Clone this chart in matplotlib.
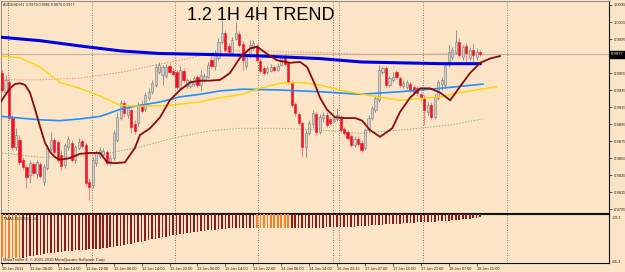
import matplotlib
matplotlib.use("Agg")
import matplotlib.pyplot as plt
import numpy as np

# AUDUSD H1 candles (bar 0 = first visible bar)
opens = [.9955, .9933, .9944, .9902, .9868, .9876, .9853, .9845, .9835, .9848,
         .9836, .9848, .9827, .9843, .9866, .9876, .9874, .9859, .9847, .9868,
         .9873, .9853, .9867, .9875, .9870, .9827, .9823, .9849, .9857, .9859,
         .9862, .9849, .9855, .9876, .9902, .9920, .9906, .9912, .9895, .9896,
         .9919, .9913, .9926, .9933, .9941, .9956, .9953, .9952, .9963, .9957,
         .9956, .9937, .9957, .9940, .9940, .9942, .9950, .9941, .9947, .9950,
         .9970, .9963, .9973, .9992, 1.0002, .9987, .9979, .9995, 1.0001, .9989,
         .9963, .9975, .9984, .9987, .9969, .9961, .9956, .9957, .9962, .9959,
         .9964, .9973, .9967, .9943, .9919, .9907, .9896, .9868, .9884, .9895,
         .9907, .9886, .9902, .9906, .9901, .9899, .9901, .9903, .9889, .9886,
         .9881, .9870, .9877, .9873, .9867, .9888, .9902, .9912, .9923, .9956,
         .9961, .9941, .9947, .9956, .9949, .9940, .9939, .9942, .9939, .9937,
         .9930, .9926, .9909, .9917, .9903, .9926, .9942, .9941, .9964, .9974,
         .9980, .9992, .9974, .9987, .9973, .9982, .9974, .9980]
highs = [.9959, .9953, .9949, .9906, .9890, .9882, .9856, .9847, .9853, .9850,
         .9853, .9850, .9848, .9870, .9886, .9879, .9876, .9865, .9873, .9881,
         .9876, .9870, .9879, .9877, .9873, .9832, .9856, .9865, .9868, .9867,
         .9865, .9859, .9888, .9909, .9923, .9923, .9916, .9914, .9900, .9921,
         .9923, .9933, .9937, .9947, .9966, .9968, .9964, .9966, .9967, .9961,
         .9959, .9963, .9961, .9949, .9948, .9952, .9953, .9959, .9955, .9968,
         .9976, .9982, .9996, 1.0017, 1.0006, .9990, .9997, 1.0015, 1.0004, .9993,
         .9976, .9994, .9994, .9989, .9973, .9963, .9963, .9966, .9963, .9967,
         .9976, .9977, .9969, .9947, .9921, .9909, .9897, .9888, .9900, .9912,
         .9909, .9907, .9909, .9909, .9903, .9904, .9914, .9906, .9892, .9888,
         .9883, .9881, .9881, .9876, .9890, .9906, .9916, .9929, .9964, .9963,
         .9963, .9952, .9956, .9959, .9952, .9947, .9947, .9944, .9941, .9940,
         .9933, .9929, .9921, .9921, .9930, .9947, .9950, .9968, .9988, .9986,
         1.0006, .9996, .9988, .9990, .9986, .9990, .9984, .9982]
lows = [.9933, .9932, .9900, .9865, .9865, .9847, .9841, .9820, .9826, .9835,
        .9832, .9832, .9823, .9841, .9863, .9860, .9850, .9841, .9843, .9865,
        .9850, .9849, .9865, .9867, .9822, .9806, .9820, .9846, .9855, .9856,
        .9847, .9847, .9853, .9874, .9900, .9903, .9902, .9884, .9883, .9893,
        .9908, .9910, .9923, .9930, .9939, .9954, .9941, .9949, .9954, .9952,
        .9936, .9935, .9944, .9937, .9937, .9940, .9939, .9934, .9944, .9949,
        .9961, .9959, .9970, .9989, .9980, .9976, .9976, .9994, .9986, .9959,
        .9960, .9973, .9982, .9968, .9955, .9953, .9954, .9956, .9956, .9957,
        .9963, .9963, .9942, .9915, .9904, .9894, .9856, .9856, .9882, .9890,
        .9882, .9883, .9897, .9892, .9894, .9897, .9899, .9886, .9882, .9876,
        .9868, .9868, .9869, .9862, .9865, .9886, .9900, .9909, .9921, .9954,
        .9939, .9939, .9944, .9948, .9939, .9937, .9936, .9933, .9929, .9928,
        .9923, .9894, .9906, .9901, .9901, .9923, .9935, .9937, .9962, .9970,
        .9977, .9974, .9970, .9968, .9970, .9964, .9970, .9975]
closes = [.9935, .9947, .9902, .9868, .9882, .9850, .9845, .9833, .9849, .9838,
          .9850, .9834, .9845, .9867, .9876, .9862, .9853, .9846, .9870, .9877,
          .9853, .9868, .9874, .9869, .9826, .9821, .9853, .9861, .9865, .9863,
          .9849, .9855, .9884, .9903, .9920, .9908, .9914, .9892, .9887, .9917,
          .9910, .9929, .9933, .9943, .9962, .9964, .9962, .9962, .9956, .9954,
          .9939, .9959, .9947, .9947, .9946, .9949, .9941, .9953, .9952, .9964,
          .9963, .9979, .9992, 1.0002, .9982, .9980, .9994, 1.0002, .9988, .9970,
          .9974, .9988, .9990, .9970, .9957, .9955, .9961, .9962, .9959, .9963,
          .9974, .9966, .9944, .9917, .9908, .9896, .9868, .9884, .9896, .9908,
          .9886, .9903, .9906, .9894, .9896, .9901, .9906, .9888, .9884, .9879,
          .9870, .9877, .9872, .9865, .9888, .9902, .9914, .9926, .9959, .9961,
          .9941, .9949, .9950, .9950, .9941, .9943, .9944, .9935, .9933, .9932,
          .9926, .9912, .9917, .9903, .9927, .9944, .9947, .9964, .9980, .9982,
          .9992, .9976, .9986, .9979, .9982, .9976, .9980, .9977]

# indicator lines, read at bar positions
blue_x = [0, 11, 22, 34, 45, 57, 68, 80, 91, 103, 114, 126, 137]
blue_y = [.9997, .9993, .9987, .9981, .9978, .9977, .9976, .9974, .9972, .9968, .9967, .9966, .9966]

yellow_x = [0, 5.2, 10.9, 16.6, 22.3, 28.1, 33.8, 39.5, 48.1, 56.7, 62.5, 68.8, 73.9,
            79.7, 85.4, 91.1, 96.8, 103.2, 114, 125.5, 131.2, 141.8]
yellow_y = [.9975, .9973, .9962, .9944, .9937, .9928, .9917, .9916, .9917, .9921, .9926,
            .9930, .9937, .9943, .9944, .9941, .9935, .9930, .9923, .9927, .9932, .9939]

lblue_x = [0, 5.2, 10.9, 16.6, 22.3, 28.1, 34.4, 39.5, 45.3, 51, 56.7, 62.5, 68.8,
           79.7, 91.1, 102.6, 114, 125.5, 137.8]
lblue_y = [.9904, .9902, .9900, .9899, .9901, .9904, .9913, .9917, .9921, .9927, .9930,
           .9934, .9936, .9935, .9933, .9930, .9933, .9937, .9942]

dred_x = [-0.5, 0.9, 2.3, 3.7, 5.2, 6.6, 8.0, 9.5, 10.9, 12.3, 13.8, 15.2, 16.6, 19.5,
          22.3, 25.2, 28.1, 30.1, 32.4, 35.2, 38.1, 39.5, 42.4, 45.3, 48.1, 51, 53.9,
          56.7, 59.6, 62.5, 65.3, 68.2, 71.1, 73.1, 75.4, 78.8, 82.5, 85.4, 87.4, 89.7,
          91.1, 93.1, 95.4, 98.3, 101.2, 103.2, 105.4, 108.3, 111.8, 114, 116.9, 119.8,
          122.6, 125.5, 128.4, 131.2, 134.1, 137, 139.8, 142.7]
dred_y = [.9920, .9929, .9937, .9942, .9943, .9941, .9932, .9912, .9892, .9873, .9862,
          .9856, .9853, .9855, .9860, .9861, .9861, .9850, .9849, .9850, .9867, .9882,
          .9890, .9903, .9923, .9935, .9944, .9946, .9946, .9947, .9955, .9973, .9984,
          .9986, .9979, .9970, .9967, .9968, .9962, .9941, .9926, .9912, .9903, .9902,
          .9902, .9899, .9888, .9880, .9890, .9909, .9926, .9937, .9937, .9932, .9923,
          .9939, .9955, .9967, .9972, .9975]

upper_x = [0, 10.9, 22.3, 34.4, 42.4, 51, 60.5, 71.1, 79.7, 91.1, 103.2, 119.8, 137.8]
upper_y = [.9947, .9947, .9949, .9956, .9963, .9970, .9979, .9982, .9980, .9979, .9977, .9977, .9979]

lower_x = [0, 10.9, 22.3, 30.9, 39.5, 49.6, 59.6, 68.2, 79.7, 91.1, 102.6, 116.9, 128.4, 137.8]
lower_y = [.9861, .9856, .9857, .9861, .9868, .9879, .9887, .9890, .9890, .9888, .9884,
           .9889, .9894, .9901]

# lower window histogram, one value per bar
hist = [-79.8, -80.2, -80.5, -80.8, -81.0, -81.1, -80.2, -79.4, -78.6, -77.9,
        -77.2, -76.5, -75.9, -75.2, -74.6, -74.1, -73.6, -73.1, -72.6, -72.2,
        -71.8, -71.5, -71.2, -70.9, -70.6, -70.3, -70.0, -69.7, -69.4, -69.1,
        -68.8, -68.1, -67.4, -66.7, -66.0, -65.2, -64.5, -63.7, -63.0, -62.2,
        -61.4, -60.5, -59.7, -58.8, -58.0, -57.2, -56.4, -55.6, -54.8, -54.0,
        -53.3, -52.6, -52.0, -51.3, -50.7, -50.1, -49.6, -49.1, -48.6, -48.1,
        -47.7, -47.3, -46.9, -46.5, -46.2, -45.9, -45.6, -45.4, -45.3, -45.2,
        -45.1, -45.0, -44.95, -45.1, -45.2, -45.3, -45.4, -45.5, -45.6, -45.7,
        -45.75, -45.8, -45.85, -45.8, -45.7, -45.6, -45.5, -45.4, -45.3, -45.2,
        -45.1, -45.0, -44.9, -44.8, -44.7, -44.6, -44.5, -44.4, -44.3, -44.15,
        -44.0, -43.8, -43.6, -43.4, -43.1, -42.8, -42.5, -42.2, -41.9, -41.6,
        -41.3, -41.1, -40.8, -40.5, -40.3, -40.0, -39.8, -39.5, -39.3, -39.0,
        -38.8, -38.6, -38.3, -38.1, -37.9, -37.6, -37.4, -37.1, -36.9, -36.5,
        -36.2, -35.8, -35.5, -35.2, -34.9, -34.3, -33.6, -32.8]

price_ticks = [1.0035, 1.0015, 0.9995, 0.9955, 0.9935, 0.9915, 0.9895, 0.9875,
               0.9855, 0.9835, 0.9815, 0.9795]
last_price = 0.9977

time_pos = [0, 8, 16, 24, 32, 40, 48, 56, 64, 72, 80, 88, 96, 104, 112, 120, 128, 136]
time_labels = ['10 Jan 2011', '11 Jan 06:00', '11 Jan 14:00', '11 Jan 22:00', '12 Jan 06:00',
               '12 Jan 14:00', '12 Jan 22:00', '13 Jan 06:00', '13 Jan 14:00', '13 Jan 22:00',
               '14 Jan 06:00', '14 Jan 14:00', '16 Jan 23:15', '17 Jan 07:00', '17 Jan 15:00',
               '17 Jan 23:00', '18 Jan 07:00', '18 Jan 15:00']
day_lines = [1.7, 25.8, 49.6, 73.4, 94.8, 96.6, 120.6, 144.7]

bg = '#FCE5C7'
small = 'Liberation Sans'
fs = 2.8

fig = plt.figure(figsize=(6.25, 2.72), dpi=100, facecolor=bg)
ax = fig.add_axes([1/625, 59/272, 608/625, 212/272], facecolor=bg)
ax2 = fig.add_axes([1/625, 9/272, 608/625, 49/272], facecolor=bg)

idx = np.arange(len(closes))
o = np.array(opens); c = np.array(closes)
up = c >= o

# current price line and day separators
ax.axhline(last_price, color='#C6B7A2', lw=0.9, zorder=1)
for d in day_lines:
    ax.axvline(d, color='#6E6E6E', lw=0.6, ls=(0, (1.2, 1.8)), zorder=1)
    ax2.axvline(d, color='#6E6E6E', lw=0.6, ls=(0, (1.2, 1.8)), zorder=1)

ax.plot(upper_x, upper_y, color='#F08C78', lw=0.7, ls=(0, (1.5, 1.5)), zorder=2)
ax.plot(lower_x, lower_y, color='#8FB46A', lw=0.7, ls=(0, (1.5, 1.5)), zorder=2)

# candles
wick_cols = np.where(up, '#808080', '#F0707A')
ax.vlines(idx, lows, highs, colors=wick_cols, lw=0.6, zorder=3)
body_h = np.maximum(np.abs(c - o), 0.00004)
ax.bar(idx, body_h, bottom=np.minimum(o, c), width=0.62,
       color=np.where(up, '#CFCFCF', '#EE1122'),
       edgecolor=np.where(up, '#7A7A7A', '#EE1122'), lw=0.4, zorder=4)

ax.plot(lblue_x, lblue_y, color='#1E90FF', lw=1.2, zorder=5)
ax.plot(yellow_x, yellow_y, color='#FFD200', lw=1.0, zorder=5)
ax.plot(blue_x, blue_y, color='#0000E6', lw=2.2, zorder=6)
ax.plot(dred_x, dred_y, color='#8B0A0A', lw=1.3, zorder=6)

ax.set_xlim(-0.29, 173.9)
ax.set_ylim(0.97904, 1.00397)
ax.yaxis.tick_right()
ax.set_yticks(price_ticks)
ax.set_yticklabels(['%.4f' % p for p in price_ticks], family=small)
ax.tick_params(axis='y', length=2, width=0.5, pad=1.2, labelsize=3.0, colors='#222222')
ax.set_xticks([])
for s in ['left', 'top']:
    ax.spines[s].set_color('#7A7A7A'); ax.spines[s].set_linewidth(0.6)
for s in ['right', 'bottom']:
    ax.spines[s].set_color('#111111'); ax.spines[s].set_linewidth(0.8)

# last price tag
ax.text(1.0035, last_price, '%.4f' % last_price, transform=ax.get_yaxis_transform(),
        fontsize=3.0, family=small, color='white', va='center', ha='left',
        bbox=dict(boxstyle='square,pad=0.3', fc='black', ec='black'), clip_on=False)

fig.text(3/625, 1 - 4.5/272, 'AUDUSD,H1  0.9979 0.9981 0.9976 0.9977', fontsize=2.7,
         family=small, color='#222222', va='center', ha='left')
fig.text(187/625, 1 - 20/272, '1.2 1H 4H TREND', fontsize=13, family='Liberation Sans',
         color='black', va='baseline', ha='left')

# histogram window
vals = np.array(hist)
grow = np.r_[True, vals[1:] <= vals[:-1]]
ax2.bar(idx, vals, width=0.45, color=np.where(grow, '#F5822A', '#8B1A1A'), zorder=3)
ax2.set_xlim(-0.29, 173.9)
ax2.set_ylim(-86.3, -29.1)
ax2.set_yticks([])
ax2.text(1.004, 0.92, '-29.1', transform=ax2.transAxes, fontsize=3.0, family=small,
         va='center', color='#222222')
ax2.text(1.004, 0.03, '-86.3', transform=ax2.transAxes, fontsize=3.0, family=small,
         va='center', color='#222222')
ax2.text(0.004, 0.9, 'TMACD(3,240) -32.7', transform=ax2.transAxes, fontsize=3.0,
         family=small, va='center', color='#222222', zorder=5)
ax2.text(0.004, 0.07, 'MetaTrader 4, \u00a9 2001-2010 MetaQuotes Software Corp.',
         transform=ax2.transAxes, fontsize=3.0, family=small, va='center', color='#222222',
         zorder=5)
ax2.set_xticks(time_pos)
ax2.set_xticklabels(time_labels, family=small)
ax2.tick_params(axis='x', length=2, width=0.5, pad=0.8, labelsize=fs, colors='#222222')
for lbl in ax2.get_xticklabels():
    lbl.set_ha('left')
for s in ['left']:
    ax2.spines[s].set_color('#7A7A7A'); ax2.spines[s].set_linewidth(0.6)
for s in ['right', 'bottom', 'top']:
    ax2.spines[s].set_color('#111111'); ax2.spines[s].set_linewidth(0.8)

fig.savefig('out.png', dpi=100, facecolor=bg)
